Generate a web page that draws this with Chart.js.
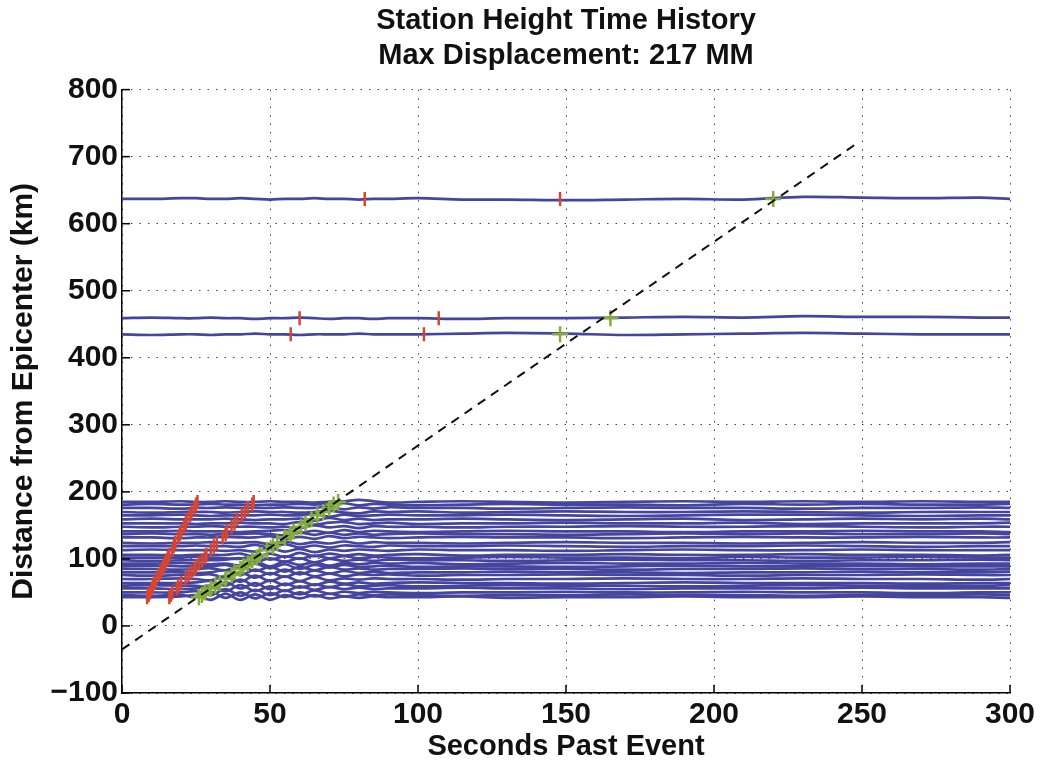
<!DOCTYPE html>
<html>
<head>
<meta charset="utf-8">
<title>Station Height Time History</title>
<script src="https://cdn.jsdelivr.net/npm/chart.js@4.4.1/dist/chart.umd.min.js"></script>
<style>
  html, body { margin: 0; padding: 0; background: #fff; }
  #wrap { width: 1040px; height: 764px; }
</style>
</head>
<body>
<div id="wrap"><canvas id="chart" width="1040" height="764"></canvas></div>
<script>
// Sample times (s) shared by all station traces
const traceTimes = [0, 10, 20, 25, 30, 35, 40, 45, 50, 55, 60, 65, 70, 75, 80, 85, 90, 100, 115, 130, 150, 170, 190, 210, 230, 250, 270, 290, 300];

// Station distance from epicenter (km)
const stationDistances = [637, 459, 435, 185, 181, 176, 170, 165, 159, 153, 148, 141, 137, 132, 124, 119, 113, 106, 102, 98, 93, 89, 85, 80, 76, 70, 64, 60, 56, 50, 46, 43];

// Height trace of each station, read as offsets (km on plot) at traceTimes
const stationOffsets = [
    [0, 0, 1, 1, 0, 0, 1, 0, -1, 0, 0, 1, 0, 0, -1, 0, 0, 1, -1, -1, -2, -1, 0, -1, 3, 2, 1, 2, 0],
    [0, 1, 0, 0, 1, 0, 0, -1, 0, 0, 1, 0, -1, 0, 0, -1, 0, 0, -1, 0, 0, 1, 2, 1, 3, 2, 2, 1, 1],
    [0, -1, 0, 0, -1, 0, 0, 1, 0, 0, -1, 0, 0, 0, 1, 0, 0, 0, 1, 2, 1, -1, 0, 1, 2, 1, 0, 0, 0],
    [0, 0, 1, 0, 0, 1, 0, 0, 1, 0, 0, -1, 0, 1, 3, 1, -1, 0, 1, 0, -1, 0, 1, 0, 1, 0, 1, 0, 0],
    [0, 1, 0, 0, 1, 0, 0, -1, 0, 0, 1, 0, 1, 2, -1, 1, 0, -1, 0, 1, 0, 0, -1, 1, 0, 1, 0, 0, 1],
    [0, 0, -1, 0, 0, 1, 0, 0, 0, 1, 0, 0, 2, -2, 1, -1, 1, 0, 0, -1, 0, 1, 0, 0, -1, 0, 0, 1, 0],
    [0, -1, 0, 0, 0, -1, 0, 1, 0, 0, -1, 0, 2, -1, -2, 1, 0, 1, -1, 0, 1, 0, 0, 1, 0, -1, 0, 0, 0],
    [0, 0, 1, 0, -1, 0, 0, 0, 1, 0, 0, 2, -2, 1, -1, 0, 1, 0, 0, 1, 0, -1, 0, 1, 1, 0, -1, 0, 0],
    [0, 1, 0, 0, 0, 1, 0, -1, 0, 0, 1, -2, 2, -1, 1, -1, 0, 0, 1, 0, -1, 0, 1, -1, 0, 1, 0, 1, 0],
    [0, 0, 0, -1, 0, 0, 1, 0, 0, -1, 2, -2, 1, 2, -1, 0, 1, -1, 0, 0, 1, 0, 0, 1, -1, 0, 0, 0, 1],
    [0, -1, 0, 0, 1, 0, 0, 0, -1, 0, -2, 2, -1, 1, -2, 1, 0, 0, -1, 0, 0, 1, 0, 0, 1, 0, -1, 0, 0],
    [0, 0, 1, 0, 0, 0, -1, 0, 1, 2, -2, 1, -2, 2, -1, 1, 0, -1, 0, 1, 0, 0, -1, 0, 0, 1, 0, 0, -1],
    [0, 1, 0, 0, -1, 0, 0, 1, 0, -2, 2, -1, 2, -1, 1, -1, 0, 1, 0, 0, -1, 0, 1, 0, 1, 0, 0, 1, 0],
    [0, 0, -1, 0, 0, 1, 0, 0, 2, -2, 1, -2, 2, -1, 1, 0, -1, 0, 1, 0, 0, -1, 0, 1, 0, 0, 1, 0, 0],
    [0, -1, 0, 0, 1, 0, 0, 1, -2, 2, -2, 1, -1, 2, -1, 1, 0, 0, -1, 0, 1, 0, 0, -1, 0, 1, 0, 0, 1],
    [0, 0, 0, 1, 0, 0, -1, 2, -2, 3, -2, 1, -2, 1, 0, -1, 1, 0, 0, 1, 0, -1, 0, 0, 1, 0, -1, 0, 0],
    [0, 1, 0, 0, 0, -1, 0, -2, 3, -2, 2, -3, 1, -1, 1, 0, -1, 1, 0, 0, -1, 0, 1, 0, 0, 1, 0, 0, 0],
    [0, 0, -1, 0, 0, 0, 2, -3, 2, -3, 3, -2, 2, -1, 1, -1, 0, 1, -1, 0, 0, 1, 0, 0, 1, 0, 0, -1, 0],
    [0, 0, 0, 1, 0, -1, -2, 3, -3, 2, -2, 3, -1, 2, -1, 1, 0, -1, 0, 1, 0, 0, -1, 1, 0, 0, 1, 0, 0],
    [0, -1, 0, 0, 0, 1, 3, -3, 3, -2, 3, -3, 2, -1, 1, -1, 1, 0, 0, -1, 0, 1, 0, 0, -1, 0, 0, 1, 0],
    [0, 0, 1, 0, -1, 0, -3, 3, -4, 3, -2, 2, -3, 1, -1, 1, 0, 1, -1, 0, 1, 0, 0, 1, 0, 0, -1, 0, 0],
    [0, 1, 0, 0, 0, 2, -3, 4, -3, 3, -4, 2, -2, 2, -1, 0, 1, -1, 0, 0, -1, 0, 1, 0, 0, 1, 0, 0, 0],
    [0, 0, -1, 0, 1, -2, 4, -3, 3, -4, 3, -2, 3, -1, 1, -1, 0, 0, 1, 0, 0, -1, 0, 0, 1, 0, 0, -1, 0],
    [0, 0, 0, -1, 0, 3, -4, 4, -3, 4, -3, 3, -2, 2, -1, 1, -1, 0, 0, 1, 0, 0, -1, 0, 0, 1, 0, 0, 1],
    [0, -1, 0, 0, 1, -3, 4, -4, 3, -3, 4, -2, 2, -2, 1, 0, 1, -1, 0, 0, 1, 0, 0, -1, 0, 0, 1, 0, 0],
    [0, 0, 1, 0, -2, 4, -4, 5, -3, 4, -3, 3, -2, 1, -1, 1, 0, 0, -1, 0, 0, 1, 0, 0, 1, 0, 0, -1, 0],
    [0, 0, 0, 1, 3, -4, 5, -4, 4, -3, 3, -3, 2, -1, 1, -1, 0, 1, 0, 0, -1, 0, 1, 0, 0, 0, -1, 0, 0],
    [0, 1, 0, 0, -3, 5, -4, 4, -5, 3, -3, 2, -2, 2, -1, 0, 1, -1, 0, 1, 0, 0, -1, 0, 1, 0, 0, 0, 1],
    [0, 0, -1, 0, 4, -4, 5, -4, 3, -4, 3, -2, 2, -1, 1, -1, 0, 0, 1, 0, 0, -1, 0, 0, 0, 1, 0, 0, 0],
    [0, 0, 0, 2, -4, 5, -5, 4, -4, 3, -3, 3, -2, 1, -1, 1, 0, -1, 0, 0, 1, 0, 0, 1, 0, 0, -1, 0, 0],
    [0, -1, 0, -3, 5, -4, 4, -5, 3, -3, 4, -2, 2, -2, 1, 0, 1, 0, -1, 0, 0, 1, 0, 0, -1, 0, 0, 1, 0],
    [0, 0, 1, 3, -4, 5, -4, 4, -4, 3, -2, 3, -2, 1, -1, 1, 0, 0, 1, -1, 0, 0, 1, 0, 0, 1, 0, 0, -1]
];

// Picked arrival times (s) per station: two red picks and one green pick
const redFirstTimes = [82, 60, 57, 25.5, 25, 24.5, 23.5, 23, 22, 21.5, 21, 20, 19.5, 19, 18, 17.5, 17, 16, 15.5, 15, 14.5, 14, 13.5, 13, 12.5, 11.5, 11, 10.5, 10, 9.5, 9, 8.5];
const redSecondTimes = [148, 107, 102, 44.5, 44, 42.5, 41.5, 40.5, 39, 38, 37, 35.5, 35, 34, 32, 31, 30, 28.5, 28, 27, 26, 25, 24.5, 23.5, 22.5, 21.5, 20, 19, 18.5, 17, 16.5, 16];
const greenTimes = [220, 165, 148, 73, 71.5, 70, 68, 66, 64, 62, 60.5, 58, 57, 55, 52.5, 51, 49, 46.5, 45.5, 44, 42.5, 41, 40, 38, 37, 35, 33, 31.5, 30, 28, 27, 26];

// Dashed move-out line
const moveoutTimes = [0, 249];
const moveoutDistances = [-35, 722];

const FONT = "'Liberation Sans', Arial, Helvetica, sans-serif";
const traceColor = '#45459f';

const datasets = [];

datasets.push({
    type: 'line',
    data: moveoutTimes.map((t, i) => ({ x: t, y: moveoutDistances[i] })),
    borderColor: '#111',
    borderWidth: 2,
    borderDash: [9, 7],
    pointRadius: 0,
    order: 0
});

datasets.push({
    type: 'scatter',
    data: stationDistances.map((d, i) => ({ x: greenTimes[i], y: d })),
    pointStyle: 'cross',
    pointRadius: 8,
    borderColor: '#84ad3a',
    borderWidth: 2.5,
    order: 1
});

datasets.push({
    type: 'scatter',
    data: stationDistances.map((d, i) => ({ x: redFirstTimes[i], y: d }))
        .concat(stationDistances.map((d, i) => ({ x: redSecondTimes[i], y: d }))),
    pointStyle: 'line',
    rotation: 90,
    pointRadius: 7,
    borderColor: '#d8452f',
    borderWidth: 2.5,
    order: 2
});

stationDistances.forEach((d, s) => {
    datasets.push({
        type: 'line',
        data: traceTimes.map((t, i) => ({ x: t, y: d + stationOffsets[s][i] })),
        borderColor: traceColor,
        borderWidth: 2.7,
        pointRadius: 0,
        tension: 0.35,
        order: 3
    });
});

// MATLAB style ticks pointing into the plot
const inwardTicks = {
    id: 'inwardTicks',
    afterDatasetsDraw(chart) {
        const { ctx, chartArea: a, scales: { x, y } } = chart;
        ctx.save();
        ctx.strokeStyle = '#000';
        ctx.lineWidth = 1.5;
        x.ticks.forEach((t, i) => {
            const px = x.getPixelForTick(i);
            ctx.beginPath();
            ctx.moveTo(px, a.bottom);
            ctx.lineTo(px, a.bottom - 8);
            ctx.stroke();
        });
        y.ticks.forEach((t, i) => {
            const py = y.getPixelForTick(i);
            ctx.beginPath();
            ctx.moveTo(a.left, py);
            ctx.lineTo(a.left + 8, py);
            ctx.stroke();
        });
        ctx.restore();
    }
};

const gridStyle = {
    color: '#444',
    lineWidth: 1,
    drawTicks: false,
    tickLength: 0
};

new Chart(document.getElementById('chart'), {
    data: { datasets: datasets },
    options: {
        responsive: false,
        animation: false,
        layout: { padding: { left: 6, right: 30, top: 0, bottom: 0 } },
        plugins: {
            legend: { display: false },
            tooltip: { enabled: false },
            title: {
                display: true,
                fullSize: false,
                text: ['Station Height Time History', 'Max Displacement: 217 MM'],
                color: '#111',
                font: { family: FONT, size: 29, weight: 'bold', lineHeight: 1.2 },
                padding: { top: 4, bottom: 16 }
            }
        },
        scales: {
            x: {
                type: 'linear',
                min: 0,
                max: 300,
                afterFit: (s) => { s.height = 71; },
                ticks: {
                    stepSize: 50,
                    padding: 4,
                    color: '#111',
                    font: { family: FONT, size: 30, weight: 'bold' }
                },
                grid: gridStyle,
                border: { display: true, color: '#000', width: 1.5, dash: [1.5, 7] },
                title: {
                    display: true,
                    text: 'Seconds Past Event',
                    color: '#111',
                    font: { family: FONT, size: 29, weight: 'bold' },
                    padding: { top: 0, bottom: 0 }
                }
            },
            y: {
                type: 'linear',
                min: -100,
                max: 800,
                afterFit: (s) => { s.width = 116; },
                ticks: {
                    stepSize: 100,
                    padding: 4,
                    color: '#111',
                    font: { family: FONT, size: 30, weight: 'bold' },
                    callback: (v) => String(v).replace('-', '\u2212')
                },
                grid: gridStyle,
                border: { display: true, color: '#000', width: 1.5, dash: [1.5, 7] },
                title: {
                    display: true,
                    text: 'Distance from Epicenter (km)',
                    color: '#111',
                    font: { family: FONT, size: 30, weight: 'bold' },
                    padding: { top: 0, bottom: 2 }
                }
            }
        }
    },
    plugins: [inwardTicks]
});
</script>
</body>
</html>
